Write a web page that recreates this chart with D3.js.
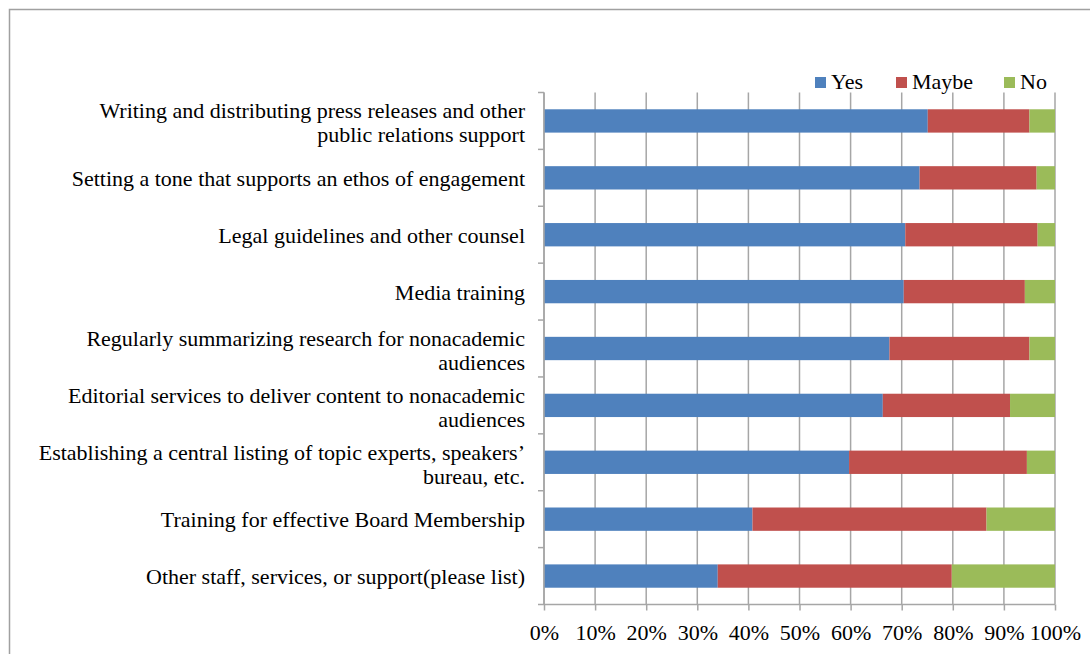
<!DOCTYPE html>
<html>
<head>
<meta charset="utf-8">
<script src="https://cdn.jsdelivr.net/npm/d3@7"></script>
<style>
  html, body { margin: 0; padding: 0; background: #fff; }
  svg { display: block; }
  text { font-family: "Liberation Serif", "DejaVu Serif", serif; fill: #000; }
</style>
</head>
<body>
<svg id="chart" width="1090" height="654"></svg>
<script>
// Survey items, top to bottom ("\n" marks where a label wraps)
const categories = [
  "Writing and distributing press releases and other\npublic relations support",
  "Setting a tone that supports an ethos of engagement",
  "Legal guidelines and other counsel",
  "Media training",
  "Regularly summarizing research for nonacademic\naudiences",
  "Editorial services to deliver content to nonacademic\naudiences",
  "Establishing a central listing of topic experts, speakers\u2019\nbureau, etc.",
  "Training for effective Board Membership",
  "Other staff, services, or support(please list)"
];

// Share of responses (percent) per answer
const yesValues   = [75.1, 73.5, 70.7, 70.4, 67.6, 66.3, 59.7, 40.8, 34.0];
const maybeValues = [19.9, 22.9, 25.9, 23.7, 27.4, 24.9, 34.8, 45.8, 45.8];
const noValues    = [ 5.0,  3.6,  3.4,  5.9,  5.0,  8.8,  5.5, 13.4, 20.2];

const seriesNames = ["Yes", "Maybe", "No"];
const tickValues = [0, 10, 20, 30, 40, 50, 60, 70, 80, 90, 100];

const colors = { Yes: "#4F81BD", Maybe: "#C0504D", No: "#9BBB59" };
const fontSize = "22px";

const svg = d3.select("#chart");
const margin = { left: 544, right: 1055, top: 92.5, bottom: 604.5 };

// Outer chart-area frame
svg.append("rect")
  .attr("x", 9.5).attr("y", 9.5)
  .attr("width", 1100).attr("height", 700)
  .attr("fill", "none")
  .attr("stroke", "#a0a0a0")
  .attr("stroke-width", 1.5);

const rows = categories.map((c, i) => ({
  category: c, Yes: yesValues[i], Maybe: maybeValues[i], No: noValues[i]
}));

const x = d3.scaleLinear().domain([0, 100]).range([margin.left, margin.right]);
const y = d3.scaleBand().domain(categories)
  .range([margin.top, margin.bottom])
  .paddingInner(0.59).paddingOuter(0.295);

// Vertical gridlines
svg.append("g")
  .selectAll("line")
  .data(tickValues)
  .join("line")
  .attr("x1", d => x(d)).attr("x2", d => x(d))
  .attr("y1", margin.top).attr("y2", margin.bottom)
  .attr("stroke", "#a6a6a6")
  .attr("stroke-width", 1.5);

// Stacked bars
const layers = d3.stack().keys(seriesNames)(rows);

svg.append("g")
  .selectAll("g")
  .data(layers)
  .join("g")
  .attr("fill", d => colors[d.key])
  .selectAll("rect")
  .data(d => d)
  .join("rect")
  .attr("x", d => x(d[0]))
  .attr("width", d => x(d[1]) - x(d[0]))
  .attr("y", d => y(d.data.category))
  .attr("height", y.bandwidth());

// Bottom axis
const xAxis = d3.axisBottom(x)
  .tickValues(tickValues)
  .tickFormat(d => d + "%")
  .tickSize(6)
  .tickPadding(14);

const gx = svg.append("g")
  .attr("transform", `translate(0,${margin.bottom})`)
  .call(xAxis);
gx.select(".domain").attr("stroke", "#a6a6a6").attr("stroke-width", 1.5)
  .attr("d", `M${margin.left},0H${margin.right}`);
gx.selectAll(".tick line").attr("stroke", "#a6a6a6").attr("stroke-width", 1.5);
gx.selectAll(".tick text")
  .style("font-family", '"Liberation Serif", "DejaVu Serif", serif')
  .style("font-size", fontSize)
  .attr("fill", "#000");

// Left axis: line and category-boundary ticks
const boundaries = d3.range(categories.length + 1)
  .map(i => margin.top + i * (margin.bottom - margin.top) / categories.length);
const gy = svg.append("g");
gy.append("line")
  .attr("x1", margin.left).attr("x2", margin.left)
  .attr("y1", margin.top).attr("y2", margin.bottom)
  .attr("stroke", "#a6a6a6").attr("stroke-width", 1.5);
gy.selectAll("line.tk")
  .data(boundaries)
  .join("line")
  .attr("class", "tk")
  .attr("x1", margin.left - 6).attr("x2", margin.left)
  .attr("y1", d => d).attr("y2", d => d)
  .attr("stroke", "#a6a6a6").attr("stroke-width", 1.5);

// Category labels
const labelRight = 525;
const lineHeight = 24;
const labels = svg.append("g")
  .style("font-size", fontSize)
  .attr("text-anchor", "end");

categories.forEach(cat => {
  const lines = cat.split("\n");
  const t = labels.append("text").attr("x", labelRight);
  const cy = y(cat) + y.bandwidth() / 2;
  const firstBaseline = cy + 8 - (lines.length - 1) * lineHeight / 2 + (lines.length - 1) * 1.5;
  lines.forEach((ln, i) => {
    t.append("tspan")
      .attr("x", labelRight)
      .attr("y", firstBaseline + i * lineHeight)
      .text(ln);
  });
});

// Legend
const legendItems = [
  { key: "Yes", x: 815 },
  { key: "Maybe", x: 896 },
  { key: "No", x: 1004 }
];
const legend = svg.append("g").style("font-size", fontSize);
legend.selectAll("rect")
  .data(legendItems)
  .join("rect")
  .attr("x", d => d.x).attr("y", 77)
  .attr("width", 11).attr("height", 11)
  .attr("fill", d => colors[d.key]);
legend.selectAll("text")
  .data(legendItems)
  .join("text")
  .attr("x", d => d.x + 16).attr("y", 89)
  .text(d => d.key);
</script>
</body>
</html>
